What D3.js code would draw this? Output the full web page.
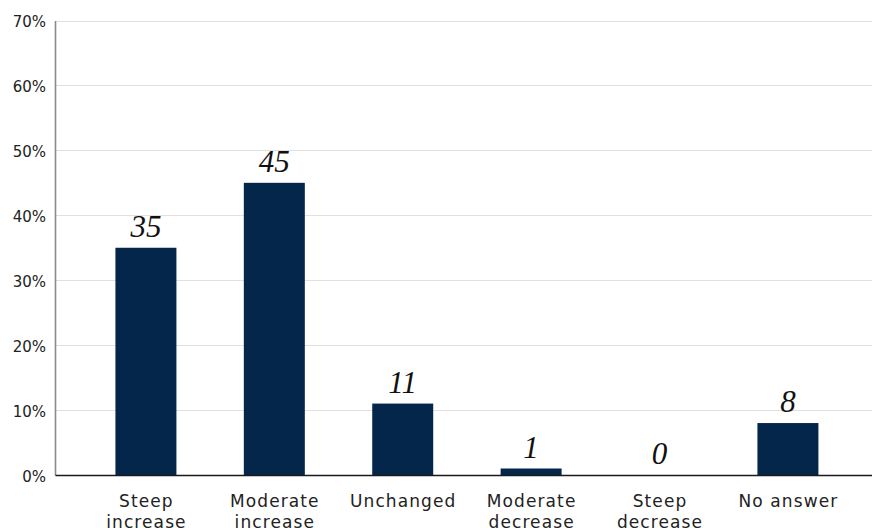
<!DOCTYPE html>
<html>
<head>
<meta charset="utf-8">
<script src="https://cdn.jsdelivr.net/npm/d3@7"></script>
<style>
  html, body { margin: 0; padding: 0; background: #fff; }
  svg { display: block; }
</style>
</head>
<body>
<svg id="chart" width="872" height="528"></svg>
<script>
// Survey answers and the share (%) of respondents giving each one
const categories = ["Steep increase", "Moderate increase", "Unchanged", "Moderate decrease", "Steep decrease", "No answer"];
const categoryLines = [["Steep", "increase"], ["Moderate", "increase"], ["Unchanged"], ["Moderate", "decrease"], ["Steep", "decrease"], ["No answer"]];
const shares = [35, 45, 11, 1, 0, 8];
const yTicks = [0, 10, 20, 30, 40, 50, 60, 70];

const plotLeft = 55, plotRight = 872, plotTop = 20.5, plotBottom = 475;
const sansFont = "'DejaVu Sans', sans-serif";

const svg = d3.select("#chart");

const x = d3.scaleBand()
  .domain(categories)
  .range([plotLeft, plotRight])
  .paddingInner(0.525)
  .paddingOuter(0.444)
  .align(0.53);

const y = d3.scaleLinear().domain([0, 70]).range([plotBottom, plotTop]);

// horizontal gridlines
svg.append("g")
  .selectAll("line")
  .data(yTicks.filter(d => d > 0))
  .join("line")
  .attr("x1", plotLeft).attr("x2", plotRight)
  .attr("y1", d => Math.round(y(d)) + 0.5).attr("y2", d => Math.round(y(d)) + 0.5)
  .attr("stroke", "#e0e0e0").attr("stroke-width", 1);

// y axis
const yAxis = d3.axisLeft(y).tickValues(yTicks).tickFormat(d => d + "%").tickSize(0).tickPadding(9);
const gy = svg.append("g").attr("transform", `translate(${plotLeft},0)`).call(yAxis);
gy.select(".domain").attr("stroke", "#8a8a8a").attr("stroke-width", 1.6);
gy.selectAll("text")
  .attr("font-family", sansFont)
  .attr("font-size", 15)
  .attr("dy", "0.4em")
  .attr("fill", "#222");

// bars
svg.append("g")
  .selectAll("rect")
  .data(shares)
  .join("rect")
  .attr("x", (d, i) => x(categories[i]))
  .attr("width", x.bandwidth())
  .attr("y", d => y(d))
  .attr("height", d => y(0) - y(d))
  .attr("fill", "#04264a");

// value labels
svg.append("g")
  .selectAll("text")
  .data(shares)
  .join("text")
  .attr("x", (d, i) => x(categories[i]) + x.bandwidth() / 2)
  .attr("y", d => y(d) - 11)
  .attr("text-anchor", "middle")
  .attr("font-family", "'Liberation Serif', 'Times New Roman', serif")
  .attr("font-style", "italic")
  .attr("font-size", 31)
  .attr("fill", "#111")
  .text(d => d);

// x axis baseline
const xAxis = d3.axisBottom(x).tickSize(0).tickFormat("");
const gx = svg.append("g").attr("transform", `translate(0,${plotBottom})`).call(xAxis);
gx.select(".domain").attr("stroke", "#1a1a1a").attr("stroke-width", 1.4);

// category labels (two lines)
const labels = svg.append("g")
  .selectAll("text")
  .data(categories)
  .join("text")
  .attr("text-anchor", "middle")
  .attr("font-family", sansFont)
  .attr("font-size", 17)
  .attr("letter-spacing", 1.1)
  .attr("fill", "#222")
  .attr("transform", d => `translate(${x(d) + x.bandwidth() / 2 + 0.5},507)`);
labels.selectAll("tspan")
  .data((d, i) => categoryLines[i])
  .join("tspan")
  .attr("x", 0)
  .attr("dy", (d, i) => i === 0 ? 0 : 21.3)
  .text(d => d);
</script>
</body>
</html>
